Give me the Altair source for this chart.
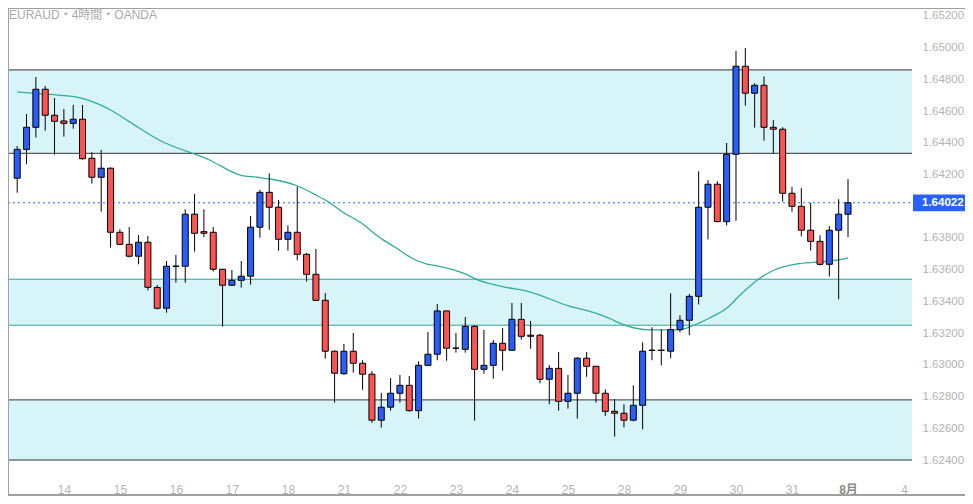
import altair as alt
import pandas as pd

# ---- candle data (EURAUD 4h) ----
opens = [1.64177, 1.64359, 1.64498, 1.64738, 1.64574, 1.64538, 1.64523, 1.64549, 1.64303, 1.64183,
         1.64240, 1.63836, 1.63760, 1.63685, 1.63773, 1.63488, 1.63357, 1.63621, 1.63622, 1.63950,
         1.63840, 1.63836, 1.63603, 1.63502, 1.63533, 1.63559, 1.63868, 1.64088, 1.63994, 1.63792,
         1.63836, 1.63697, 1.63571, 1.63407, 1.63086, 1.62944, 1.63086, 1.63010, 1.62941, 1.62651,
         1.62733, 1.62821, 1.62871, 1.62711, 1.62997, 1.63067, 1.63340, 1.63105, 1.63098, 1.63243,
         1.62972, 1.62997, 1.63136, 1.63092, 1.63287, 1.63187, 1.63187, 1.62909, 1.62978, 1.62770,
         1.62821, 1.63042, 1.62991, 1.62821, 1.62707, 1.62695, 1.62651, 1.62745, 1.63091, 1.63093,
         1.63086, 1.63222, 1.63281, 1.63432, 1.63994, 1.64139, 1.63903, 1.64328, 1.64883, 1.64713,
         1.64763, 1.64498, 1.64486, 1.64082, 1.64000, 1.63849, 1.63779, 1.63634, 1.63849, 1.63950]
highs = [1.64380, 1.64582, 1.64815, 1.64759, 1.64683, 1.64614, 1.64639, 1.64639, 1.64341, 1.64355,
         1.64246, 1.63855, 1.63869, 1.63819, 1.63813, 1.63504, 1.63655, 1.63693, 1.63981, 1.64078,
         1.63981, 1.63869, 1.63603, 1.63598, 1.63655, 1.63939, 1.64103, 1.64208, 1.64040, 1.63880,
         1.64124, 1.63706, 1.63731, 1.63453, 1.63092, 1.63132, 1.63201, 1.63029, 1.62960, 1.62823,
         1.62917, 1.62936, 1.62930, 1.63023, 1.63207, 1.63384, 1.63342, 1.63201, 1.63302, 1.63251,
         1.63220, 1.63157, 1.63233, 1.63390, 1.63390, 1.63277, 1.63195, 1.62999, 1.63081, 1.62936,
         1.63048, 1.63081, 1.62993, 1.62846, 1.62783, 1.62751, 1.62871, 1.63142, 1.63237, 1.63224,
         1.63451, 1.63313, 1.63447, 1.64221, 1.64165, 1.64158, 1.64399, 1.64979, 1.64998, 1.64776,
         1.64820, 1.64544, 1.64498, 1.64122, 1.64114, 1.64022, 1.63817, 1.63875, 1.64044, 1.64172]
lows = [1.64086, 1.64265, 1.64433, 1.64477, 1.64325, 1.64439, 1.64489, 1.64294, 1.64143, 1.63966,
        1.63739, 1.63755, 1.63678, 1.63634, 1.63470, 1.63349, 1.63329, 1.63518, 1.63518, 1.63714,
        1.63805, 1.63588, 1.63241, 1.63500, 1.63487, 1.63506, 1.63802, 1.63852, 1.63720, 1.63720,
        1.63659, 1.63526, 1.63404, 1.63039, 1.62762, 1.62938, 1.62951, 1.62843, 1.62635, 1.62604,
        1.62711, 1.62762, 1.62705, 1.62661, 1.62995, 1.63029, 1.63026, 1.63077, 1.63077, 1.62648,
        1.62944, 1.62913, 1.62963, 1.63090, 1.63159, 1.63102, 1.62884, 1.62751, 1.62711, 1.62724,
        1.62661, 1.62925, 1.62762, 1.62678, 1.62547, 1.62606, 1.62644, 1.62594, 1.63029, 1.62997,
        1.63042, 1.63205, 1.63187, 1.63381, 1.63791, 1.63898, 1.63880, 1.63909, 1.64634, 1.64496,
        1.64414, 1.64334, 1.64029, 1.63966, 1.63810, 1.63721, 1.63627, 1.63557, 1.63414, 1.63805]
closes = [1.64359, 1.64498, 1.64738, 1.64574, 1.64536, 1.64523, 1.64549, 1.64300, 1.64183, 1.64240,
          1.63836, 1.63760, 1.63685, 1.63773, 1.63489, 1.63357, 1.63622, 1.63623, 1.63950, 1.63830,
          1.63830, 1.63603, 1.63502, 1.63533, 1.63559, 1.63868, 1.64088, 1.63994, 1.63792, 1.63836,
          1.63697, 1.63571, 1.63407, 1.63086, 1.62947, 1.63086, 1.63010, 1.62941, 1.62651, 1.62733,
          1.62821, 1.62871, 1.62711, 1.62997, 1.63067, 1.63340, 1.63105, 1.63106, 1.63243, 1.62972,
          1.62997, 1.63136, 1.63092, 1.63287, 1.63180, 1.63180, 1.62909, 1.62978, 1.62770, 1.62821,
          1.63042, 1.62991, 1.62821, 1.62707, 1.62695, 1.62651, 1.62745, 1.63086, 1.63093, 1.63091,
          1.63222, 1.63281, 1.63432, 1.63994, 1.64139, 1.63904, 1.64328, 1.64883, 1.64713, 1.64763,
          1.64498, 1.64486, 1.64082, 1.64000, 1.63849, 1.63779, 1.63634, 1.63849, 1.63950, 1.64022]

# moving average line, read at these candle positions
ma_pos = [0, 1.5, 4.7, 6.5, 8.9, 10, 12, 15.2, 20.6, 23.9, 25.7, 27.1, 29.9, 32, 33.4, 34.8, 36.9,
          38.7, 40.4, 42.5, 43.9, 45, 47.8, 49.4, 52, 54.9, 59, 61.8, 63.6, 64.3, 66, 68.1, 70.9,
          72.3, 74.1, 76.2, 77.2, 79.3, 81.1, 83.5, 85.9, 88.8, 89]
ma_val = [1.64721, 1.64713, 1.64700, 1.64687, 1.64639, 1.64607, 1.64534, 1.64418, 1.64292, 1.64197,
          1.64183, 1.64172, 1.64131, 1.64071, 1.64025, 1.63966, 1.63893, 1.63808, 1.63745, 1.63666,
          1.63636, 1.63624, 1.63578, 1.63535, 1.63493, 1.63461, 1.63373, 1.63329, 1.63289, 1.63269,
          1.63234, 1.63220, 1.63220, 1.63245, 1.63294, 1.63367, 1.63426, 1.63535, 1.63598, 1.63636,
          1.63649, 1.63672, 1.63676]

# zones
band_lo = [1.64334, 1.63250, 1.62400]
band_hi = [1.64860, 1.63540, 1.62779]
line_prices = [1.64860, 1.64334, 1.63540, 1.63250, 1.62779, 1.62400]
line_colors = ["#333333", "#333333", "#35a393", "#35a393", "#333333", "#333333"]

current_price = 1.64022
day_pos = [5 + 6 * k for k in range(16)]
day_labels = ["14", "15", "16", "17", "18", "21", "22", "23", "24", "25", "28", "29", "30", "31", "8月", "4"]
y_ticks = [1.652, 1.650, 1.648, 1.646, 1.644, 1.642, 1.638, 1.636, 1.634, 1.632,
           1.630, 1.628, 1.626, 1.624]

W, H = 904, 467
TOP = 3
FONT = "Liberation Sans, Noto Sans CJK JP"

df = pd.DataFrame({"i": list(range(len(opens))), "open": opens, "high": highs,
                   "low": lows, "close": closes})
df["dir"] = ["up" if c >= o else "down" for o, c in zip(opens, closes)]
ma_df = pd.DataFrame({"i": ma_pos, "ma": ma_val})
bands = pd.DataFrame({"lo": band_lo, "hi": band_hi})
lines = pd.DataFrame({"p": line_prices, "c": line_colors})
cur = pd.DataFrame({"p": [current_price], "lo": [current_price - 0.00053],
                    "hi": [current_price + 0.00053], "t": [f"{current_price:.5f}"]})

label_expr = "[" + ",".join(f"'{l}'" for l in day_labels) + "][round((datum.value-5)/6)]"

xscale = alt.Scale(domain=[-0.45, 95.32], nice=False, zero=False)
yscale = alt.Scale(domain=[1.622865, 1.652315], nice=False, zero=False)

xaxis = alt.Axis(
    values=day_pos, labelExpr=label_expr, title=None, grid=False, domain=False, ticks=False,
    tickSize=0, labelPadding=11, labelBaseline="middle", labelFont=FONT, labelFontSize=12,
    labelColor=alt.condition("datum.value == 89", alt.value("#8a8a8a"), alt.value("#b5b5b5")),
    labelFontWeight=alt.condition("datum.value == 89", alt.value("bold"), alt.value("normal")),
    labelFlush=False, labelOverlap=False)
yaxis = alt.Axis(
    orient="right", values=y_ticks, format=".5f", title=None, grid=False, domain=False,
    ticks=False, tickSize=0, labelPadding=10, labelAlign="left", labelFont=FONT,
    labelFontSize=11.5, labelColor="#b3b3b3", labelOverlap=False, labelFlush=False)


def X(f):
    return alt.X(f, scale=xscale, axis=xaxis, title=None)


def Y(f):
    return alt.Y(f, scale=yscale, axis=yaxis, title=None)


base = alt.Chart(df)

band_rect = alt.Chart(bands).mark_rect(fill="#d7f5f8").encode(
    x=alt.value(0), x2=alt.value(W), y=Y("lo:Q"), y2="hi:Q")

band_lines = alt.Chart(lines).mark_rule(strokeWidth=1).encode(
    x=alt.value(0), x2=alt.value(W), y=Y("p:Q"), color=alt.Color("c:N", scale=None))

price_line = alt.Chart(cur).mark_rule(color="#2962ff", strokeDash=[2, 3], strokeWidth=1).encode(
    x=alt.value(0), x2=alt.value(W), y=Y("p:Q"))

ma_line = alt.Chart(ma_df).mark_line(color="#34ab99", strokeWidth=1.3, interpolate="monotone").encode(
    x=X("i:Q"), y=Y("ma:Q"))

wicks = base.mark_rule(color="#000000", strokeWidth=1).encode(
    x=X("i:Q"), y=Y("low:Q"), y2="high:Q")

bodies = base.mark_bar(size=6, stroke="#000000", strokeWidth=1).encode(
    x=X("i:Q"), y=Y("open:Q"), y2="close:Q",
    fill=alt.Fill("dir:N", scale=alt.Scale(domain=["up", "down"], range=["#2b5dfc", "#ff5353"]),
                  legend=None))

cur_box = alt.Chart(cur).mark_rect(fill="#2962ff").encode(
    x=alt.value(W + 1), x2=alt.value(W + 53), y=Y("lo:Q"), y2="hi:Q")
cur_text = alt.Chart(cur).mark_text(color="white", fontWeight="bold", font=FONT, fontSize=11.5,
                                    align="left", baseline="middle").encode(
    x=alt.value(W + 10), y=Y("p:Q"), text="t:N")

title_txt = alt.Chart(cur).mark_text(text="EURAUD・4時間・OANDA", color="#a9a9a9", font=FONT,
                                     fontSize=12, align="left", baseline="middle").encode(
    x=alt.value(1), y=alt.value(7 - TOP))

frame_left = alt.Chart(cur).mark_rule(color="#a0a0a0", strokeWidth=2).encode(
    x=alt.value(0), y=alt.value(-TOP), y2=alt.value(488 - TOP))
frame_bottom = alt.Chart(cur).mark_rule(color="#a0a0a0", strokeWidth=2).encode(
    x=alt.value(0), x2=alt.value(957), y=alt.value(487 - TOP))
frame_top = alt.Chart(cur).mark_rule(color="#a0a0a0", strokeWidth=1).encode(
    x=alt.value(0), x2=alt.value(957), y=alt.value(0.5 - TOP))

chart = alt.layer(
    band_rect, band_lines, price_line, ma_line, wicks, bodies, cur_box, cur_text,
    title_txt, frame_left, frame_bottom, frame_top
).properties(
    width=W, height=H, autosize="none",
    padding={"left": 0, "top": TOP, "right": 53, "bottom": 18},
    background="white"
).configure_view(stroke=None)

chart.save("out.html", embed_options={"renderer": "svg", "actions": False})
